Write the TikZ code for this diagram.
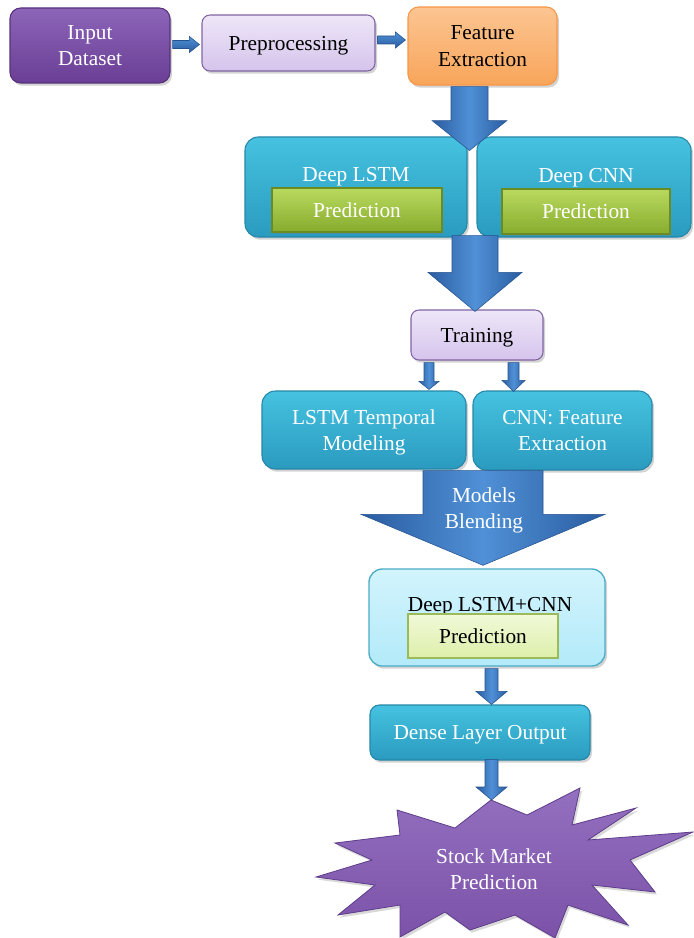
\documentclass[tikz,border=0pt]{standalone}
\usepackage{fontspec}
\setmainfont{Liberation Serif}
\usetikzlibrary{shadows,calc}
\definecolor{arrowdark}{HTML}{2A5CA0}
\definecolor{arrowlight}{HTML}{5090D6}
\definecolor{arrowedge}{HTML}{25528F}
\definecolor{dpTop}{HTML}{8C64B8}
\definecolor{dpBot}{HTML}{6A3F95}
\definecolor{dpEdge}{HTML}{55327A}
\definecolor{lpTop}{HTML}{EEE6F8}
\definecolor{lpBot}{HTML}{D5C4EC}
\definecolor{lpEdge}{HTML}{8064A2}
\definecolor{orTop}{HTML}{FCC592}
\definecolor{orBot}{HTML}{F8A55A}
\definecolor{orEdge}{HTML}{F79646}
\definecolor{cyTop}{HTML}{46C2E0}
\definecolor{cyBot}{HTML}{2A9BBF}
\definecolor{cyEdge}{HTML}{2587A8}
\definecolor{lcTop}{HTML}{D2F4FD}
\definecolor{lcBot}{HTML}{B3EAF9}
\definecolor{lcEdge}{HTML}{4BACC6}
\definecolor{grTop}{HTML}{B9D95E}
\definecolor{grBot}{HTML}{87AC2E}
\definecolor{grEdge}{HTML}{6A8A22}
\definecolor{lgTop}{HTML}{F1F9D8}
\definecolor{lgBot}{HTML}{DDEFAA}
\definecolor{lgEdge}{HTML}{9BBB59}
\definecolor{buTop}{HTML}{9470C0}
\definecolor{buBot}{HTML}{7B52A8}
\definecolor{buEdge}{HTML}{5E3D8A}
\newcommand\varrow[5]{%
  \path[vblockarrow] let \p1=(#1), \p2=(#2) in
  (\x1-#3*0.75pt,\y1) -- (\x1+#3*0.75pt,\y1) -- (\x1+#3*0.75pt,\y2+#5*0.75pt)
  -- (\x1+#4*0.75pt,\y2+#5*0.75pt) -- (\x1,\y2) -- (\x1-#4*0.75pt,\y2+#5*0.75pt)
  -- (\x1-#3*0.75pt,\y2+#5*0.75pt) -- cycle;}
\newcommand\harrow[5]{%
  \path[hblockarrow] let \p1=(#1), \p2=(#2) in
  (\x1,\y1-#3*0.75pt) -- (\x2-#5*0.75pt,\y1-#3*0.75pt) -- (\x2-#5*0.75pt,\y1-#4*0.75pt)
  -- (\x2,\y1) -- (\x2-#5*0.75pt,\y1+#4*0.75pt) -- (\x2-#5*0.75pt,\y1+#3*0.75pt)
  -- (\x1,\y1+#3*0.75pt) -- cycle;}
\begin{document}
\begin{tikzpicture}[x=0.75pt,y=-0.75pt,
  font=\fontsize{16}{20}\selectfont,
  box/.style={rectangle, rounded corners=8pt, inner sep=0pt, align=center, line width=0.8pt, text depth=0pt,
    drop shadow={shadow xshift=1.5pt, shadow yshift=-2pt, opacity=0.35}},
  darkpurple/.style={box, top color=dpTop, bottom color=dpBot, draw=dpEdge, text=white},
  lightpurple/.style={box, rounded corners=6pt, top color=lpTop, bottom color=lpBot, draw=lpEdge, text=black},
  orangebox/.style={box, top color=orTop, bottom color=orBot, draw=orEdge, text=black},
  cyanbox/.style={box, rounded corners=10pt, top color=cyTop, bottom color=cyBot, draw=cyEdge, text=white},
  lightcyan/.style={box, rounded corners=10pt, top color=lcTop, bottom color=lcBot, draw=lcEdge, line width=1pt, text=black},
  greenbox/.style={rectangle, inner sep=0pt, text depth=0pt, top color=grTop, bottom color=grBot, draw=grEdge, line width=0.8pt, text=white,
    drop shadow={shadow xshift=1pt, shadow yshift=-1.5pt, opacity=0.35}},
  lightgreen/.style={rectangle, inner sep=0pt, text depth=0pt, top color=lgTop, bottom color=lgBot, draw=lgEdge, line width=1pt, text=black},
  wtext/.style={text=white, inner sep=0pt, align=center, text depth=0pt},
  btext/.style={text=black, inner sep=0pt, align=center, text depth=0pt},
  vblockarrow/.style={left color=arrowdark, right color=arrowdark, middle color=arrowlight, draw=arrowedge, line width=0.4pt},
  hblockarrow/.style={top color=arrowlight, bottom color=arrowdark, draw=arrowedge, line width=0.4pt},
  burst/.style={top color=buTop, bottom color=buBot, draw=buEdge, line width=0.6pt}
]
\useasboundingbox (0,0) rectangle (693,938);

% top row
\node[darkpurple, minimum width=120pt, minimum height=56.25pt] (in) at (90,45.5) {Input\\Dataset};
\node[lightpurple, minimum width=129.75pt, minimum height=42pt] (pre) at (288.5,43) {Preprocessing};
\node[orangebox, minimum width=111.75pt, minimum height=58.5pt] (fe) at (482.5,46) {Feature\\Extraction};

% deep models
\node[cyanbox, minimum width=166.5pt, minimum height=75pt] (lstm) at (356,187) {};
\node[wtext] (lstmt) at (356,174) {Deep LSTM};
\node[greenbox, minimum width=127.5pt, minimum height=33pt] (lstmp) at (357,210) {Prediction};
\node[cyanbox, minimum width=160.5pt, minimum height=75pt] (cnn) at (584,187) {};
\node[wtext] (cnnt) at (586,175) {Deep CNN};
\node[greenbox, minimum width=126pt, minimum height=33.75pt] (cnnp) at (586,211.5) {Prediction};

% training
\node[lightpurple, minimum width=99pt, minimum height=37.5pt] (train) at (477,335) {Training};
\node[cyanbox, minimum width=153pt, minimum height=58.5pt] (lt) at (364,430) {LSTM Temporal\\Modeling};
\node[cyanbox, minimum width=134.25pt, minimum height=59.25pt] (cnnf) at (562.5,430.5) {CNN: Feature\\Extraction};

% combined
\node[lightcyan, minimum width=177pt, minimum height=72.75pt] (comb) at (487,617.5) {};
\node[btext] (combt) at (490,604) {Deep LSTM+CNN};
\node[lightgreen, minimum width=112.5pt, minimum height=33pt] (combp) at (483,636) {Prediction};

\node[cyanbox, rounded corners=7pt, minimum width=165pt, minimum height=41.25pt] (dense) at (480,732.5) {Dense Layer Output};

% starburst
\path[burst, drop shadow={shadow xshift=1.5pt, shadow yshift=-2pt, opacity=0.3}]
  (491,800) -- (527,815) -- (580,788) -- (572,825) -- (636,808) -- (588,840)
  -- (693,832) -- (630,860) -- (655,892) -- (592,885) -- (628,925) -- (568,905)
  -- (555,938) -- (515,915) -- (470,930) -- (445,912) -- (400,937) -- (400,905)
  -- (338,915) -- (375,885) -- (316,877) -- (372,860) -- (335,843) -- (400,835)
  -- (397,810) -- (455,828) -- cycle;
\coordinate (btop) at (491,800);
\node[wtext] (stock) at (494,869) {Stock Market\\Prediction};

% connectors
\harrow{$(in.east)+(2,-1)$}{$(pre.west)+(-2,0)$}{4}{8}{10}
\harrow{$(pre.east)+(2,-3)$}{$(fe.west)+(-2,0)$}{4}{8}{10}
\varrow{$(fe.south)+(-13,1)$}{$(fe.south)+(-13,65)$}{18.5}{37.5}{30}
\varrow{$(lstm.south east)!0.5!(cnn.south west)+(3,-2)$}{$(train.north)+(-2,2)$}{23}{47}{39}
\varrow{$(train.south)+(-48,2)$}{$(lt.north)+(65,-1)$}{5}{10}{8}
\varrow{$(train.south)+(36.5,2)$}{$(cnnf.north)+(-49,1)$}{5.5}{11.5}{11}
\varrow{$(lt.south east)!0.5!(cnnf.south west)+(13.5,0.5)$}{$(comb.north)+(-4,-3)$}{60}{122}{51}
\node[wtext] (blend) at (484,508) {Models\\Blending};
\varrow{$(comb.south)+(4.5,2)$}{$(dense.north)+(11.5,0)$}{6.5}{15.5}{13}
\varrow{$(dense.south)+(11.5,-1)$}{btop}{6.5}{15.5}{13}
\end{tikzpicture}
\end{document}
